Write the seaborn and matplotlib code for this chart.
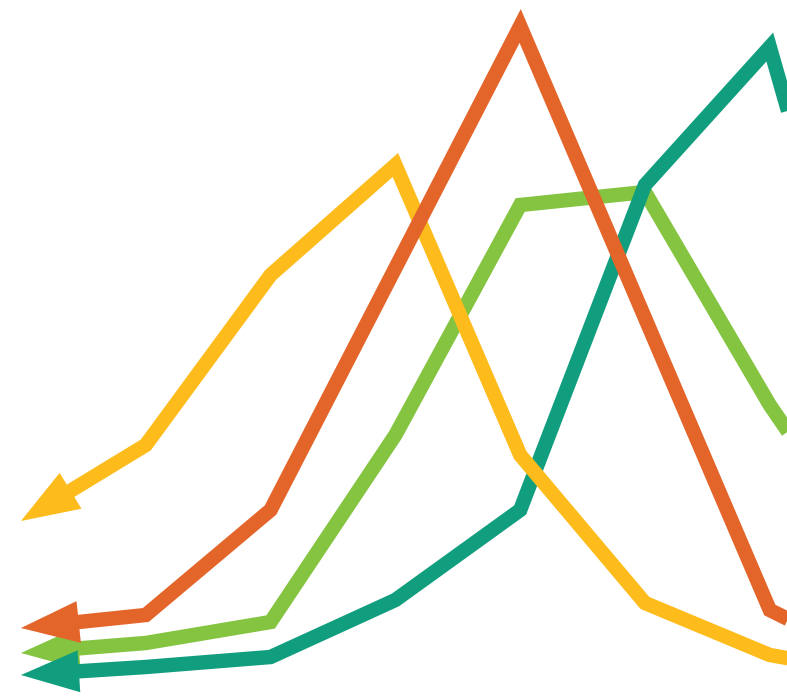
import matplotlib
matplotlib.use('Agg')
import matplotlib.pyplot as plt
import numpy as np
import seaborn as sns

# --- data (arbitrary height units) ---
steps = [0, 1, 2, 3, 4, 5, 6, 7]
green_vals = [46, 56, 77, 264, 494, 507, 294, 112]
teal_vals = [24, 32, 42, 99, 189, 514, 652, 215]
yellow_vals = [178, 254, 424, 534, 244, 96, 44, 22]
orange_vals = [71, 84, 189, 431, 673, 381, 89, 27]

series = [
    ('green', green_vals, '#84C441'),
    ('teal', teal_vals, '#119E7F'),
    ('yellow', yellow_vals, '#FDBC1C'),
    ('orange', orange_vals, '#E3652A'),
]

# --- setup ---
sns.set_style('white')
fig = plt.figure(figsize=(7.87, 6.99), dpi=100)
ax = fig.add_axes([0, 0, 1, 1])
ax.set_xlim(-0.168, 6.138)
ax.set_ylim(0, 699)
ax.axis('off')

line_w = 10.4        # points
head_len = 41.8      # points
head_hw = 15.1       # points (half width)
base_px = 30         # where the shaft starts, measured from the tip


def head_base(x0, y0, x1, y1, dist_px):
    p0 = ax.transData.transform((x0, y0))
    p1 = ax.transData.transform((x1, y1))
    d = p1 - p0
    b = p0 + d / np.hypot(*d) * dist_px
    return ax.transData.inverted().transform(b)


for z, (name, vals, col) in enumerate(series, start=2):
    bx, by = head_base(steps[0], vals[0], steps[1], vals[1], base_px)
    xs = [bx] + steps[1:]
    ys = [by] + vals[1:]
    sns.lineplot(x=xs, y=ys, ax=ax, sort=False, color=col, linewidth=line_w,
                 solid_joinstyle='miter', solid_capstyle='butt', zorder=z)
    ax.annotate('', xy=(steps[0], vals[0]), xytext=(bx, by),
                arrowprops=dict(arrowstyle=f'-|>,head_length={head_len},head_width={head_hw}',
                                color=col, lw=0, shrinkA=0, shrinkB=0, mutation_scale=1),
                zorder=z)

fig.savefig('out.png', dpi=100, facecolor='white')
